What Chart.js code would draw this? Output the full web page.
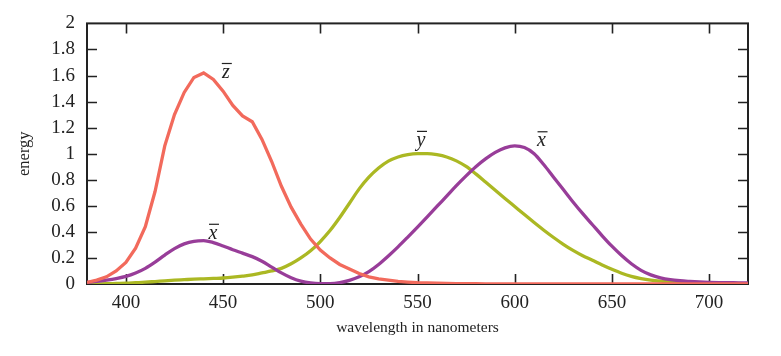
<!DOCTYPE html>
<html>
<head>
<meta charset="utf-8">
<script src="https://cdn.jsdelivr.net/npm/chart.js@4"></script>
<style>
  html, body { margin: 0; padding: 0; background: #ffffff; }
  #wrap { width: 781px; height: 356px; position: relative; }
</style>
</head>
<body>
<div id="wrap"><canvas id="c" width="781" height="356"></canvas></div>
<script>
// Wavelengths (nm)
const wavelengths = [380,385,390,395,400,405,410,415,420,425,430,435,440,445,450,455,460,465,470,475,480,485,490,495,500,505,510,515,520,525,530,535,540,545,550,555,560,565,570,575,580,585,590,595,600,605,610,615,620,625,630,635,640,645,650,655,660,665,670,675,680,685,690,695,700,705,710,715,720];

// z-bar (red)
const zBar = [0.012,0.03,0.055,0.1,0.165,0.275,0.44,0.71,1.06,1.30,1.47,1.585,1.62,1.57,1.48,1.37,1.29,1.245,1.11,0.94,0.75,0.59,0.46,0.345,0.26,0.2,0.15,0.115,0.08,0.055,0.04,0.03,0.02,0.015,0.01,0.008,0.006,0.004,0.003,0.002,0.002,0.001,0.001,0,0,0,0,0,0,0,0,0,0,0,0,0,0,0,0,0,0,0,0,0,0,0,0,0,0];

// x-bar (purple)
const xBar = [0.012,0.02,0.03,0.042,0.058,0.084,0.12,0.168,0.222,0.272,0.308,0.328,0.333,0.318,0.292,0.263,0.237,0.21,0.175,0.13,0.085,0.048,0.022,0.008,0.003,0.003,0.01,0.028,0.055,0.095,0.15,0.215,0.285,0.36,0.437,0.515,0.595,0.675,0.755,0.83,0.9,0.96,1.01,1.045,1.06,1.047,1.0,0.915,0.82,0.725,0.63,0.54,0.455,0.37,0.29,0.218,0.155,0.105,0.07,0.047,0.033,0.025,0.02,0.016,0.013,0.011,0.01,0.009,0.008];

// y-bar (green)
const yBar = [0.0,0.001,0.002,0.004,0.006,0.01,0.014,0.019,0.024,0.029,0.033,0.037,0.04,0.043,0.046,0.052,0.06,0.07,0.085,0.1,0.12,0.155,0.2,0.255,0.326,0.41,0.51,0.62,0.73,0.82,0.89,0.943,0.975,0.993,1.0,1.0,0.992,0.975,0.945,0.902,0.845,0.783,0.72,0.657,0.595,0.533,0.472,0.413,0.357,0.305,0.258,0.217,0.182,0.146,0.113,0.083,0.059,0.042,0.03,0.022,0.016,0.012,0.009,0.008,0.007,0.006,0.005,0.004,0.003];

// Curve labels: letter, wavelength, energy (baseline position)
const curveLabelText = ['z', 'x', 'y', 'x'];
const curveLabelNm = [451.4, 444.8, 551.8, 613.8];
const curveLabelVal = [1.581, 0.347, 1.06, 1.057];

// Axis ticks
const xTicks = [400, 450, 500, 550, 600, 650, 700];
const yTicks = [0, 0.2, 0.4, 0.6, 0.8, 1, 1.2, 1.4, 1.6, 1.8, 2];

const SERIF = '"Liberation Serif", "DejaVu Serif", serif';

function pts(ys) { return wavelengths.map((w, i) => ({ x: w, y: ys[i] })); }

const framePlugin = {
  id: 'frame',
  beforeDatasetsDraw(chart) {
    const { ctx, chartArea: a, scales } = chart;
    ctx.save();
    ctx.strokeStyle = '#222';
    ctx.lineWidth = 2;
    ctx.strokeRect(a.left, a.top, a.right - a.left, a.bottom - a.top);
    ctx.lineWidth = 1.6;
    const L = 10;
    xTicks.forEach(t => {
      const x = Math.round(scales.x.getPixelForValue(t)) + 0.5;
      ctx.beginPath();
      ctx.moveTo(x, a.bottom); ctx.lineTo(x, a.bottom - L);
      ctx.moveTo(x, a.top); ctx.lineTo(x, a.top + L);
      ctx.stroke();
    });
    yTicks.forEach(t => {
      if (t === 0 || t === 2) return;
      const y = Math.round(scales.y.getPixelForValue(t)) + 0.5;
      ctx.beginPath();
      ctx.moveTo(a.left, y); ctx.lineTo(a.left + L, y);
      ctx.moveTo(a.right, y); ctx.lineTo(a.right - L, y);
      ctx.stroke();
    });
    ctx.restore();
  },
  afterDatasetsDraw(chart) {
    const { ctx, scales } = chart;
    ctx.save();
    ctx.fillStyle = '#222';
    ctx.strokeStyle = '#222';
    ctx.font = 'italic 20px ' + SERIF;
    ctx.textAlign = 'center';
    ctx.textBaseline = 'alphabetic';
    curveLabelText.forEach((t, i) => {
      const x = scales.x.getPixelForValue(curveLabelNm[i]);
      const y = scales.y.getPixelForValue(curveLabelVal[i]);
      ctx.fillText(t, x, y);
      ctx.lineWidth = 1.2;
      ctx.beginPath();
      ctx.moveTo(x - 4, y - 14.5);
      ctx.lineTo(x + 6, y - 14.5);
      ctx.stroke();
    });
    ctx.restore();
  }
};

new Chart(document.getElementById('c'), {
  type: 'line',
  data: {
    datasets: [
      { label: 'z', data: pts(zBar), borderColor: '#f26a5c', borderWidth: 3.3, pointRadius: 0, tension: 0 },
      { label: 'x', data: pts(xBar), borderColor: '#983d99', borderWidth: 3.3, pointRadius: 0, cubicInterpolationMode: 'monotone' },
      { label: 'y', data: pts(yBar), borderColor: '#abb823', borderWidth: 3.3, pointRadius: 0, cubicInterpolationMode: 'monotone' }
    ]
  },
  options: {
    responsive: false,
    animation: false,
    devicePixelRatio: 1,
    layout: { padding: { top: 20, right: 33, bottom: 0, left: 0 } },
    plugins: { legend: { display: false }, tooltip: { enabled: false } },
    scales: {
      x: {
        type: 'linear',
        min: 380, max: 720,
        afterFit(s) { s.height = 72; },
        afterBuildTicks(s) { s.ticks = xTicks.map(v => ({ value: v })); },
        grid: { display: false, drawTicks: false },
        border: { display: false },
        ticks: { padding: 8, color: '#222', font: { family: SERIF, size: 19 } },
        title: { display: true, text: 'wavelength in nanometers', color: '#222',
                 font: { family: SERIF, size: 15.5 }, padding: { top: 0, bottom: 19 } }
      },
      y: {
        min: 0, max: 2,
        afterFit(s) { s.width = 87; },
        afterBuildTicks(s) { s.ticks = yTicks.map(v => ({ value: v })); },
        grid: { display: false, drawTicks: false },
        border: { display: false },
        ticks: { padding: 12, color: '#222', font: { family: SERIF, size: 19 },
                 callback: v => String(+v.toFixed(1)) },
        title: { display: true, text: 'energy', color: '#222',
                 font: { family: SERIF, size: 16.5 }, padding: { top: 15, bottom: 0 } }
      }
    }
  },
  plugins: [framePlugin]
});
</script>
</body>
</html>
